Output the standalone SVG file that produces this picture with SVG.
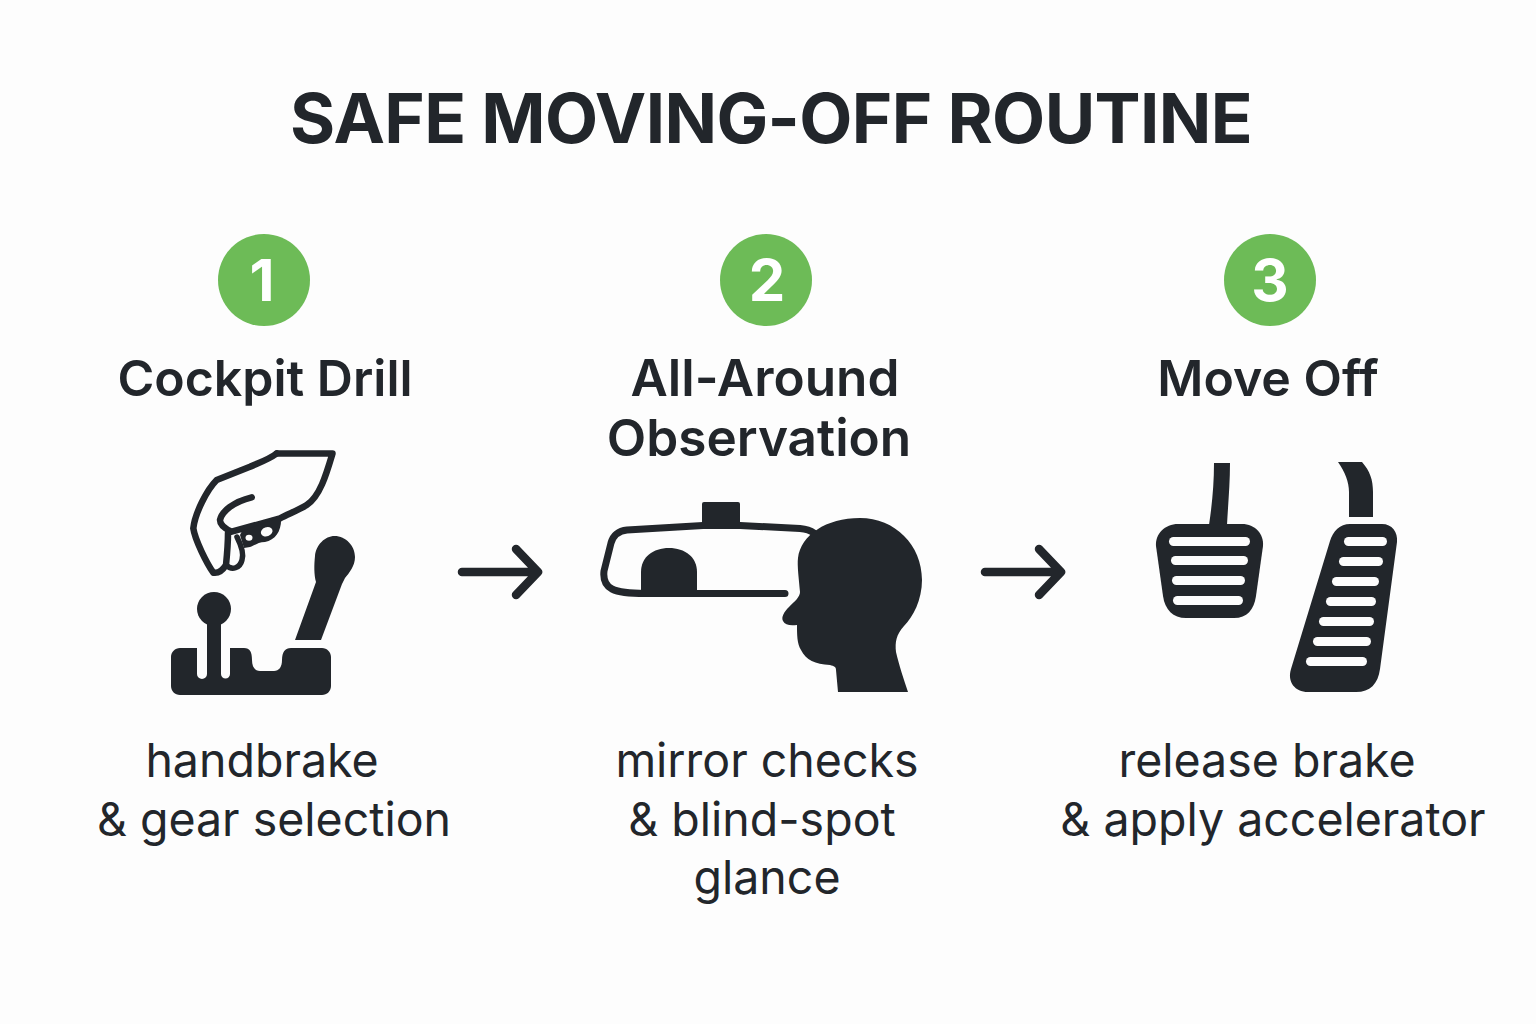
<svg xmlns="http://www.w3.org/2000/svg" width="1536" height="1024" viewBox="0 0 1536 1024">
<style>
text{font-family:Inter,"Liberation Sans",sans-serif;fill:#22262b;text-anchor:middle}
.t{font-size:69px;font-weight:700;letter-spacing:-.6px}
.h{font-size:50px;font-weight:600}
.h2{font-size:51.300px;font-weight:600}
.b{font-size:46.500px;font-weight:400}
.n{font-size:58px;font-weight:700;fill:#fff}
.c{fill:#6dbb57}
.i{fill:#22262b}
.s{fill:none;stroke:#22262b;stroke-linecap:round;stroke-linejoin:round}
.w{fill:#fdfdfd}
.a{fill:none;stroke:#22262b;stroke-width:8.500;stroke-linecap:round;stroke-linejoin:round}
</style>
<rect width="1536" height="1024" fill="#fdfdfd"/>
<text id="title" class="t" x="771" y="143">SAFE MOVING-OFF ROUTINE</text>
<g id="connectors">
<path class="a" d="M462 572H537M516 549L538 572L516 595"/>
<path class="a" d="M985 572H1060M1039 549L1061 572L1039 595"/>
</g>
<g id="step1">
<circle class="c" cx="264" cy="280" r="46"/>
<text class="n" x="262" y="301">1</text>
<text class="h" x="265" y="396">Cockpit Drill</text>
<g id="hand">
<path class="s" stroke-width="6.500" d="M276.700 453.500H332.500C326.700 473 320 496.700 306.700 505C299 510 288 514 280 518.300L231.700 531.700C224 528.300 220 524 220 520C221.700 511.700 233.300 501.700 251.700 497.300"/>
<path class="s" stroke-width="6.500" d="M276.700 453.500C268 460 258 463 250 466.700L216.700 480C206.700 490 195 513.300 193.300 528.300C195 540 206.700 563.300 213.300 572.700C216.700 573.300 221.700 571.700 226 565C227 555 228 545 228 533"/>
<path class="s" stroke-width="5.500" d="M226 565C232 571 240 568 242 560C244 554 241 545 237 537"/>
<path class="i" d="M242 531L281 517C282 530 276 540 265 542C258 542 254 546 250 547L244 548L240 535Z"/>
<ellipse class="w" cx="249" cy="537.700" rx="3.500" ry="3"/>
<ellipse class="w" cx="266.700" cy="531.700" rx="6" ry="4.500" transform="rotate(-20 266.700 531.700)"/>
</g>
<circle class="i" cx="214" cy="609" r="17"/>
<path class="i" d="M180 648H197V674A5 5 0 0 0 207 674V620H221V674A4.500 4.500 0 0 0 230 674V648H244C250 648 252 652 252 660C252 667 255 671 260 671H274C279 671 282 667 282 660C282 652 285 648 291 648H322C327 648 331 652 331 657V686C331 691 327 695 322 695H180C175 695 171 691 171 686V657C171 652 175 648 180 648Z"/>
<path class="i" d="M295 640L316 582C314 575 314 565 315 556C316 545 325 536 334.500 536C346 536 355 546 355 557C355 566 349 573 345 578L342 584L321 640Z"/>
<text class="b" x="262" y="777">handbrake</text>
<text class="b" x="274" y="836">&amp; gear selection</text>
</g>
<g id="step2">
<circle class="c" cx="766" cy="280" r="46"/>
<text class="n" x="767" y="301">2</text>
<text class="h2" x="765" y="396">All-Around</text>
<text class="h2" x="759" y="456">Observation</text>
<rect class="i" x="702" y="502" width="38" height="24" rx="2"/>
<path class="s" stroke-width="7" d="M814 533C810 530 806 529 800 528.500L740 525.500H703L627 530C617 531 613 536 611 543L604 571C603 580 606 586 612 589C620 593 632 593.500 645 593.500L785 593.500"/>
<path class="i" d="M641 597V572C641 557 653 548 669 548C685 548 697 557 697 572V597Z"/>
<path class="i" d="M838 692L836 670C836 667 834 666 830 665C815 664 806 660 801 650C797 644 797 634 797 625C790 626 785 625 783 621C781 617 784 612 789 607C795 601 800 597 800 592C799 580 797 565 798 558C801 535 826 518 860 518C895 518 922 545 922 580C922 600 913 617 904 626C896 635 895 642 896 652C899 665 904 680 908 692Z"/>
<text class="b" x="767" y="777">mirror checks</text>
<text class="b" x="762" y="836">&amp; blind-spot</text>
<text class="b" x="767" y="894">glance</text>
</g>
<g id="step3">
<circle class="c" cx="1270" cy="280" r="46"/>
<text class="n" x="1270" y="301">3</text>
<text class="h" x="1268" y="396">Move Off</text>
<path class="i" d="M1214 463H1230C1230 485 1228 505 1227 525H1209C1212 505 1214 485 1214 463Z"/>
<path class="i" d="M1178 524H1242C1255 524 1264 534 1263 546L1256 596C1254 610 1247 618 1234 618H1186C1173 618 1165 610 1163 596L1156 546C1155 534 1165 524 1178 524Z"/>
<g class="w">
<rect x="1169" y="537" width="81" height="9" rx="4.500"/>
<rect x="1171" y="556" width="77" height="9" rx="4.500"/>
<rect x="1172" y="576" width="73" height="9" rx="4.500"/>
<rect x="1173" y="596" width="70" height="9" rx="4.500"/>
</g>
<path class="i" d="M1338 462H1362C1370 471 1373 480 1373 492V517H1349V492C1349 482 1345 472 1338 462Z"/>
<path class="i" d="M1350 524H1382C1392 524 1398 532 1397 542L1380 669C1378 684 1370 692 1356 692H1308C1295 692 1287 682 1291 669L1330 541C1333 531 1340 524 1350 524Z"/>
<g class="w">
<rect x="1344" y="537" width="43" height="9" rx="4.500"/>
<rect x="1339" y="557" width="44" height="9" rx="4.500"/>
<rect x="1332" y="577" width="47" height="9" rx="4.500"/>
<rect x="1326" y="597" width="50" height="9" rx="4.500"/>
<rect x="1319" y="617" width="55" height="9" rx="4.500"/>
<rect x="1313" y="637" width="58" height="9" rx="4.500"/>
<rect x="1306" y="657" width="61" height="9" rx="4.500"/>
</g>
<text class="b" x="1267" y="777">release brake</text>
<text class="b" x="1273" y="836">&amp; apply accelerator</text>
</g>
</svg>
